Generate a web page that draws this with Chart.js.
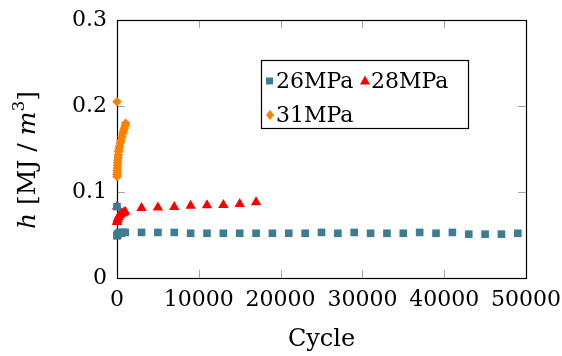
<!DOCTYPE html>
<html>
<head>
<meta charset="utf-8">
<script src="https://cdn.jsdelivr.net/npm/chart.js@4/dist/chart.umd.min.js"></script>
<style>
  html, body { margin: 0; padding: 0; background: #fff; }
  #wrap { position: relative; width: 562px; height: 356px; }
</style>
</head>
<body>
<div id="wrap"><canvas id="c"></canvas></div>
<script>
// ---- data ----
const seriesNames = ['26MPa', '28MPa', '31MPa'];

const cycles26 = [0, 0, 50, 100, 200, 300, 500, 700,
  1000, 3000, 5000, 7000, 9000, 11000, 13000, 15000, 17000, 19000, 21000, 23000, 25000,
  27000, 29000, 31000, 33000, 35000, 37000, 39000, 41000, 43000, 45000, 47000, 49000];
const h26 = [0.083, 0.049, 0.051, 0.050, 0.052, 0.053, 0.052, 0.053,
  0.053, 0.053, 0.053, 0.053, 0.052, 0.052, 0.052, 0.052, 0.052, 0.052, 0.052, 0.052, 0.053,
  0.052, 0.053, 0.052, 0.052, 0.052, 0.053, 0.052, 0.053, 0.051, 0.051, 0.051, 0.052];

const cycles28 = [0, 0, 50, 100, 200, 300, 400, 600, 800, 1000,
  3000, 5000, 7000, 9000, 11000, 13000, 15000, 17000];
const h28 = [0.083, 0.065, 0.067, 0.069, 0.071, 0.073, 0.074, 0.075, 0.076, 0.077,
  0.0815, 0.082, 0.0825, 0.084, 0.0845, 0.085, 0.086, 0.088];

const cycles31 = [0, 0, 10, 20, 30, 40, 60, 80, 100, 130, 160, 200, 250, 300, 400, 500,
  600, 700, 800, 900, 1000, 1050];
const h31 = [0.205, 0.118, 0.120, 0.122, 0.125, 0.128, 0.131, 0.134, 0.137, 0.140, 0.143,
  0.147, 0.150, 0.153, 0.157, 0.160, 0.164, 0.168, 0.171, 0.174, 0.177, 0.180];

const xTickLabels = ['0', '10000', '20000', '30000', '40000', '50000'];
const yTickLabels = ['0', '0.1', '0.2', '0.3'];

// ---- styling ----
const colors = ['#3e7b96', '#ff0000', '#ff8000'];
const SERIF = '"DejaVu Serif", "Liberation Serif", serif';

function pts(xs, ys) { return xs.map((x, i) => ({ x: x, y: ys[i] })); }

const framePlugin = {
  id: 'frame',
  beforeDatasetsDraw(chart) {
    const { ctx, chartArea: a, scales } = chart;
    ctx.save();
    ctx.strokeStyle = '#a6a6a6';
    ctx.lineWidth = 1;
    const tl = 8;
    scales.x.ticks.forEach(t => {
      const px = Math.round(scales.x.getPixelForValue(t.value)) + 0.5;
      ctx.beginPath();
      ctx.moveTo(px, a.bottom); ctx.lineTo(px, a.bottom - tl);
      ctx.moveTo(px, a.top); ctx.lineTo(px, a.top + tl);
      ctx.stroke();
    });
    scales.y.ticks.forEach(t => {
      const py = Math.round(scales.y.getPixelForValue(t.value)) + 0.5;
      ctx.beginPath();
      ctx.moveTo(a.left, py); ctx.lineTo(a.left + tl, py);
      ctx.moveTo(a.right, py); ctx.lineTo(a.right - tl, py);
      ctx.stroke();
    });
    ctx.strokeStyle = '#000';
    ctx.lineWidth = 1.2;
    ctx.strokeRect(Math.round(a.left) + 0.5, Math.round(a.top) + 0.5,
      Math.round(a.right) - Math.round(a.left), Math.round(a.bottom) - Math.round(a.top));
    ctx.restore();
  },
  afterDraw(chart) {
    const { ctx, chartArea: a } = chart;
    ctx.save();
    ctx.fillStyle = '#000';
    // x title
    ctx.font = '24px ' + SERIF;
    ctx.textAlign = 'center';
    ctx.textBaseline = 'middle';
    ctx.fillText('Cycle', (a.left + a.right) / 2, 340);

    // y title: h [MJ / m^3]
    const segs = [
      { t: 'h', f: 'italic 25px ' + SERIF, dy: 0 },
      { t: ' [MJ / ', f: '25px ' + SERIF, dy: 0 },
      { t: 'm', f: 'italic 25px ' + SERIF, dy: 0 },
      { t: '3', f: '17px ' + SERIF, dy: -11 },
      { t: ']', f: '25px ' + SERIF, dy: 0 }
    ];
    let total = 0;
    segs.forEach(s => { ctx.font = s.f; s.w = ctx.measureText(s.t).width; total += s.w; });
    ctx.translate(35, 160);
    ctx.rotate(-Math.PI / 2);
    ctx.textAlign = 'left';
    ctx.textBaseline = 'alphabetic';
    let x = -total / 2;
    segs.forEach(s => { ctx.font = s.f; ctx.fillText(s.t, x, s.dy); x += s.w; });
    ctx.restore();

    // legend
    ctx.save();
    const L = 261, T = 60, R = 468, B = 128;
    ctx.fillStyle = '#fff';
    ctx.fillRect(L, T, R - L, B - T);
    ctx.strokeStyle = '#000';
    ctx.lineWidth = 1.2;
    ctx.strokeRect(L + 0.5, T + 0.5, R - L, B - T);
    ctx.font = '22px ' + SERIF;
    ctx.textBaseline = 'middle';
    ctx.textAlign = 'left';
    const items = [
      { mx: 269.5, my: 81, tx: 276, ty: 81, style: 'rect' },
      { mx: 365, my: 81, tx: 371, ty: 81, style: 'triangle' },
      { mx: 270, my: 115, tx: 276, ty: 115, style: 'rectRot' }
    ];
    items.forEach((it, i) => {
      ctx.fillStyle = colors[i];
      ctx.beginPath();
      if (it.style === 'rect') {
        ctx.rect(it.mx - 3.5, it.my - 3.5, 7, 7);
      } else if (it.style === 'triangle') {
        ctx.moveTo(it.mx, it.my - 5.5);
        ctx.lineTo(it.mx + 5, it.my + 3.5);
        ctx.lineTo(it.mx - 5, it.my + 3.5);
        ctx.closePath();
      } else {
        ctx.moveTo(it.mx, it.my - 5);
        ctx.lineTo(it.mx + 4, it.my);
        ctx.lineTo(it.mx, it.my + 5);
        ctx.lineTo(it.mx - 4, it.my);
        ctx.closePath();
      }
      ctx.fill();
      ctx.fillStyle = '#000';
      ctx.fillText(seriesNames[i], it.tx, it.ty + 1);
    });
    ctx.restore();
  }
};

new Chart(document.getElementById('c'), {
  type: 'scatter',
  data: {
    datasets: [
      { label: seriesNames[0], data: pts(cycles26, h26), pointStyle: 'rect', pointRadius: 5.4,
        backgroundColor: colors[0], borderColor: colors[0], borderWidth: 0, clip: false, showLine: false },
      { label: seriesNames[1], data: pts(cycles28, h28), pointStyle: 'triangle', pointRadius: 6,
        backgroundColor: colors[1], borderColor: colors[1], borderWidth: 0, clip: false, showLine: false },
      { label: seriesNames[2], data: pts(cycles31, h31), pointStyle: 'rectRot', pointRadius: 4.8,
        backgroundColor: colors[2], borderColor: colors[2], borderWidth: 0, clip: false, showLine: false }
    ]
  },
  options: {
    responsive: true,
    maintainAspectRatio: false,
    animation: false,
    events: [],
    layout: { padding: { top: 20, right: 36, left: 0, bottom: 0 } },
    plugins: { legend: { display: false }, tooltip: { enabled: false } },
    scales: {
      x: {
        type: 'linear', min: 0, max: 50000,
        afterFit(s) { s.height = 78; s.paddingLeft = 0; s.paddingRight = 0; },
        afterBuildTicks(s) { s.ticks = xTickLabels.map(v => ({ value: Number(v) })); },
        ticks: { stepSize: 10000, padding: 9, color: '#000', maxRotation: 0, autoSkip: false,
          font: { family: SERIF, size: 22 }, callback: (v, i) => xTickLabels[i] },
        grid: { display: false, drawTicks: false },
        border: { display: false }
      },
      y: {
        type: 'linear', min: 0, max: 0.3,
        afterFit(s) { s.width = 117; s.paddingTop = 0; s.paddingBottom = 0; },
        afterBuildTicks(s) { s.ticks = yTickLabels.map(v => ({ value: Number(v) })); },
        ticks: { stepSize: 0.1, padding: 10, color: '#000',
          font: { family: SERIF, size: 22 }, callback: (v, i) => yTickLabels[i] },
        grid: { display: false, drawTicks: false },
        border: { display: false }
      }
    }
  },
  plugins: [framePlugin]
});
</script>
</body>
</html>
